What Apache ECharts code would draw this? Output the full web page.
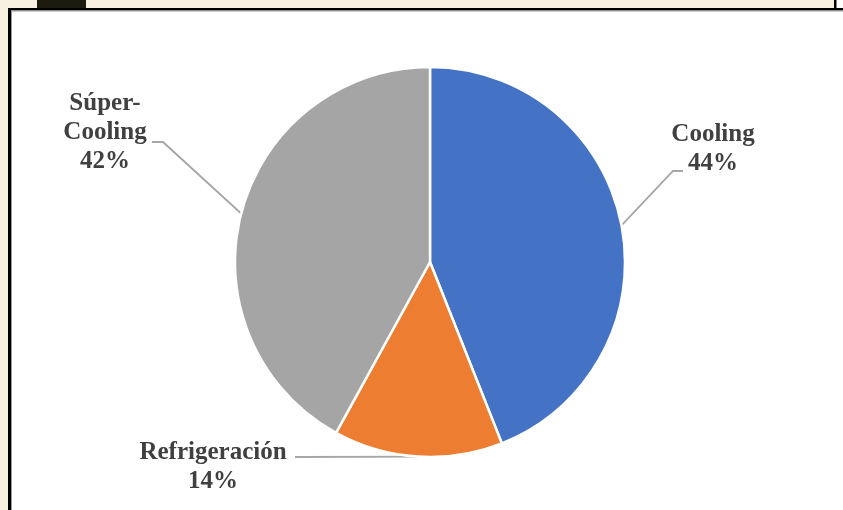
<!DOCTYPE html>
<html>
<head>
<meta charset="utf-8">
<script src="https://cdn.jsdelivr.net/npm/echarts@6/dist/echarts.min.js"></script>
<style>
  html, body { margin: 0; padding: 0; background: #F8F1E1; }
  #chart { width: 843px; height: 510px; }
</style>
</head>
<body>
<div id="chart"></div>
<script>
const categories = ['Cooling', 'Refrigeración', 'Súper-Cooling'];
const shares = [44, 14, 42];
const sliceColors = ['#4472C4', '#ED7D31', '#A5A5A5'];

// label placement (annotation only): centre of text block and leader-line elbow
const labelSpots = [
  { cx: 713, cy: 149, elbow: [673, 171], end: [683, 171] },
  { cx: 213, cy: 467, elbow: [300, 457], end: [295, 457] },
  { cx: 105, cy: 133, elbow: [163, 142], end: [152, 142] }
];

const chart = echarts.init(document.getElementById('chart'), null, { renderer: 'canvas' });

const data = categories.map((c, i) => ({
  name: c, value: shares[i], itemStyle: { color: sliceColors[i] }
}));

chart.setOption({
  animation: false,
  backgroundColor: '#F8F1E1',
  graphic: [
    { type: 'rect', shape: { x: 37, y: 0, width: 49, height: 9 }, style: { fill: '#1C1B10' }, z: 0 },
    { type: 'rect', shape: { x: 9, y: 9, width: 834, height: 501 }, style: { fill: '#FFFFFF' }, z: 0 },
    { type: 'rect', shape: { x: 836, y: 0, width: 7, height: 9 }, style: { fill: '#FFFFFF' }, z: 0 },
    { type: 'rect', shape: { x: 834, y: 0, width: 2.5, height: 9 }, style: { fill: '#000000' }, z: 1 },
    { type: 'rect', shape: { x: 8, y: 8, width: 835, height: 2.5 }, style: { fill: '#000000' }, z: 1 },
    { type: 'rect', shape: { x: 8, y: 8, width: 3, height: 502 }, style: { fill: '#000000' }, z: 1 },
    { type: 'rect', shape: { x: 11, y: 10.5, width: 832, height: 1 }, style: { fill: '#9A9A9A' }, z: 1 },
    { type: 'rect', shape: { x: 11, y: 10.5, width: 1, height: 500 }, style: { fill: '#9A9A9A' }, z: 1 }
  ],
  series: [{
    type: 'pie',
    center: [430, 262],
    radius: 195,
    startAngle: 90,
    clockwise: true,
    avoidLabelOverlap: false,
    itemStyle: { borderColor: '#FFFFFF', borderWidth: 2.5 },
    emphasis: { disabled: true },
    label: {
      show: true,
      position: 'outside',
      formatter: p => p.name.replace('-', '-\n') + '\n' + Math.round(p.percent) + '%',
      fontFamily: 'Liberation Serif',
      fontWeight: 'bold',
      fontSize: 25,
      lineHeight: 29,
      color: '#404040',
      align: 'center'
    },
    labelLine: {
      show: true,
      length: 20,
      length2: 10,
      lineStyle: { color: '#A6A6A6', width: 1.8 }
    },
    labelLayout: function (params) {
      const s = labelSpots[params.dataIndex];
      const p0 = params.labelLinePoints ? params.labelLinePoints[0] : s.elbow;
      return {
        x: s.cx, y: s.cy,
        align: 'center', verticalAlign: 'middle',
        labelLinePoints: [p0, s.elbow, s.end]
      };
    },
    data: data
  }]
});
</script>
</body>
</html>
